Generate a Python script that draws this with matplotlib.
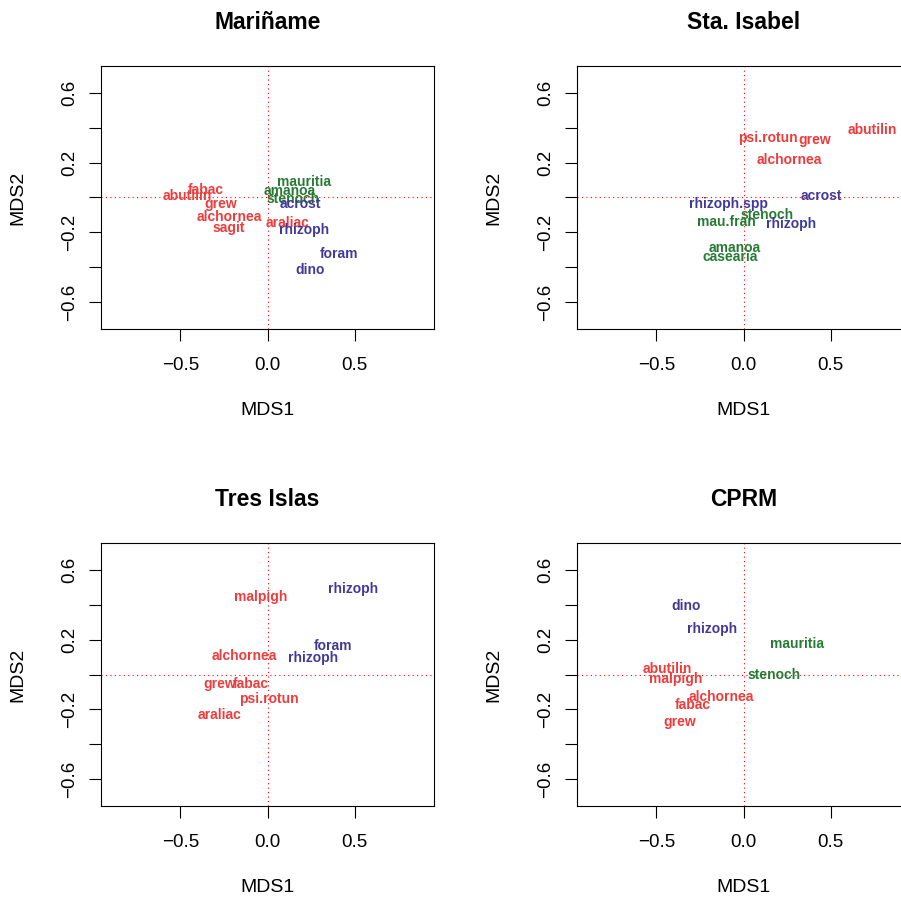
import matplotlib
matplotlib.use("Agg")
import matplotlib.pyplot as plt
import numpy as np

plt.rcParams['font.family'] = ['Liberation Sans', 'DejaVu Sans']

RED = "#EE3B3B"
GREEN = "#267A34"
BLUE = "#41399A"
group_colors = {"r": RED, "g": GREEN, "b": BLUE}

titles = ["Mariñame", "Sta. Isabel", "Tres Islas", "CPRM"]

# Mariñame
names1 = ["fabac", "abutilin", "grew", "alchornea", "sagit", "araliac",
          "mauritia", "amanoa", "stenoch", "acrost", "rhizoph", "foram", "dino"]
x1 = [-0.357, -0.46, -0.271, -0.218, -0.221, 0.113,
      0.212, 0.126, 0.147, 0.19, 0.212, 0.409, 0.244]
y1 = [0.042, 0.007, -0.04, -0.112, -0.177, -0.145,
      0.087, 0.038, -0.006, -0.04, -0.183, -0.322, -0.417]
g1 = ["r", "r", "r", "r", "r", "r", "g", "g", "g", "b", "b", "b", "b"]

# Sta. Isabel
names2 = ["psi.rotun", "grew", "abutilin", "alchornea", "acrost", "rhizoph.spp",
          "stenoch", "mau.fran", "rhizoph", "amanoa", "casearia"]
x2 = [0.142, 0.406, 0.741, 0.261, 0.446, -0.087,
      0.138, -0.097, 0.275, -0.05, -0.074]
y2 = [0.341, 0.326, 0.385, 0.217, 0.007, -0.036,
      -0.101, -0.139, -0.154, -0.291, -0.341]
g2 = ["r", "r", "r", "r", "b", "b", "g", "g", "b", "g", "g"]

# Tres Islas
names3 = ["malpigh", "rhizoph", "foram", "rhizoph", "alchornea", "grew",
          "fabac", "psi.rotun", "araliac"]
x3 = [-0.037, 0.489, 0.373, 0.263, -0.132, -0.276, -0.097, 0.008, -0.273]
y3 = [0.446, 0.49, 0.164, 0.097, 0.107, -0.055, -0.055, -0.141, -0.23]
g3 = ["r", "b", "b", "b", "r", "r", "r", "r", "r"]

# CPRM
names4 = ["dino", "rhizoph", "mauritia", "abutilin", "malpigh", "stenoch",
          "alchornea", "fabac", "grew"]
x4 = [-0.331, -0.178, 0.306, -0.435, -0.39, 0.175, -0.125, -0.292, -0.368]
y4 = [0.389, 0.261, 0.175, 0.031, -0.023, -0.002, -0.131, -0.177, -0.274]
g4 = ["b", "b", "g", "r", "r", "g", "r", "r", "r"]

panels = [(names1, x1, y1, g1), (names2, x2, y2, g2),
          (names3, x3, y3, g3), (names4, x4, y4, g4)]

W, H = 901, 897
fig = plt.figure(figsize=(W / 100, H / 100), dpi=100)

# axes boxes in pixels: left, top
boxes = [(101, 66), (577, 66), (101, 543), (577, 543)]
bw, bh = 333, 263

yticks = [-0.6, -0.4, -0.2, 0.0, 0.2, 0.4, 0.6]
ylabels = ["\u22120.6", "", "\u22120.2", "", "0.2", "", "0.6"]
xticks = [-0.5, 0.0, 0.5]
xlabels = ["\u22120.5", "0.0", "0.5"]

for (left, top), title, (names, xs, ys, gs) in zip(boxes, titles, panels):
    ax = fig.add_axes([left / W, (H - top - bh) / H, bw / W, bh / H])
    ax.set_xlim(-0.955, 0.955)
    ax.set_ylim(-0.752, 0.752)
    ax.axhline(0, color="red", lw=0.8, ls=(0, (1, 3)))
    ax.axvline(0, color="red", lw=0.8, ls=(0, (1, 3)))
    for n, x, y, g in zip(names, xs, ys, gs):
        ax.text(x, y, n, color=group_colors[g], fontsize=10, fontweight="bold",
                ha="center", va="center")
    ax.set_xticks(xticks)
    ax.set_xticklabels(xlabels)
    ax.set_yticks(yticks)
    ax.set_yticklabels(ylabels, rotation=90, va="center")
    ax.tick_params(direction="out", length=8.5, width=0.8, labelsize=13.5)
    ax.tick_params(axis="x", pad=12)
    ax.tick_params(axis="y", pad=8)
    for s in ax.spines.values():
        s.set_linewidth(0.8)
    ax.set_xlabel("MDS1", fontsize=14, va="center")
    ax.xaxis.set_label_coords(0.5, -0.308)
    ax.set_ylabel("MDS2", fontsize=14, va="center")
    ax.yaxis.set_label_coords(-0.249, 0.5)
    ax.set_title(title, fontsize=16.5, fontweight="bold", y=1.167, va="center", pad=0)

fig.savefig("out.png", dpi=100)
